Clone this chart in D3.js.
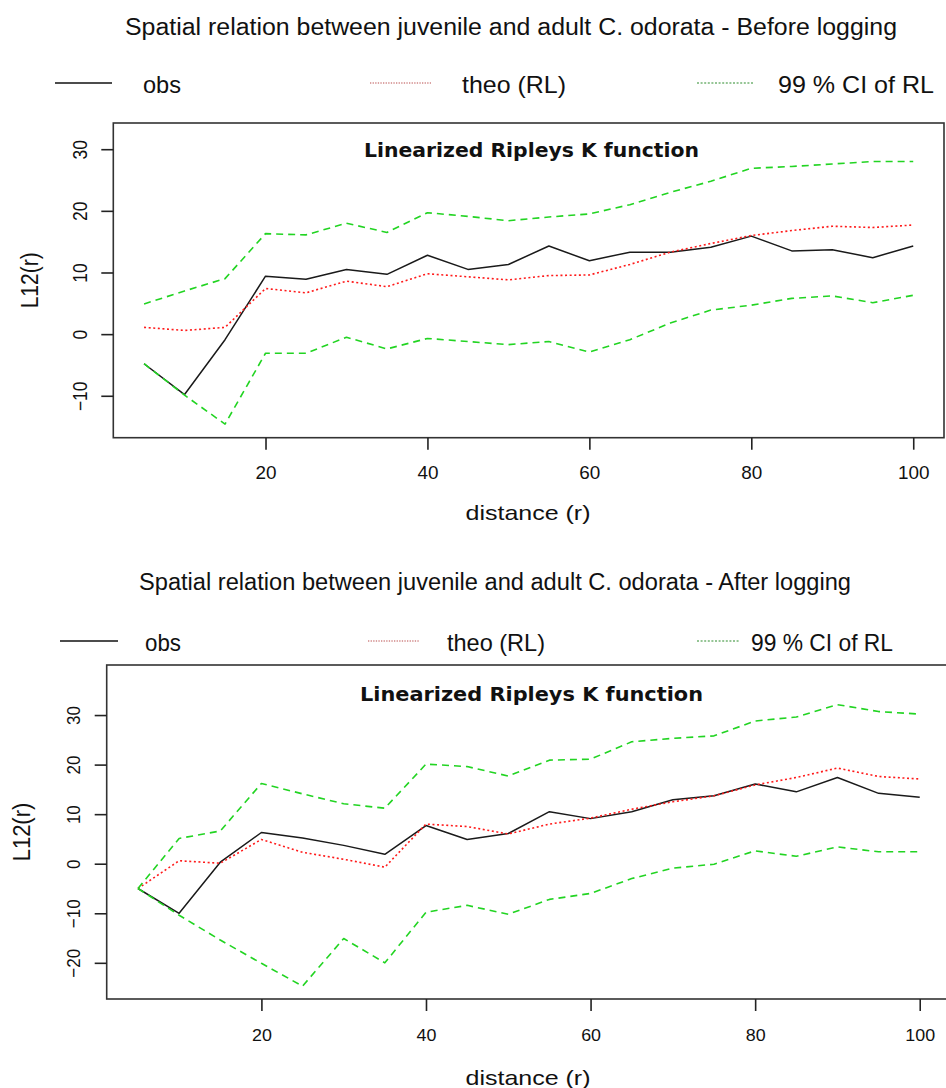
<!DOCTYPE html>
<html>
<head>
<meta charset="utf-8">
<script src="https://cdn.jsdelivr.net/npm/d3@7"></script>
<style>
  body { margin: 0; background: #fff; }
  svg { display: block; }
  text { fill: #111; }
</style>
</head>
<body>
<svg id="chart" width="946" height="1088"></svg>
<script>
// Distances r at which L12(r) was evaluated
const distance = [5, 10, 15, 20, 25, 30, 35, 40, 45, 50, 55, 60, 65, 70, 75, 80, 85, 90, 95, 100];

// Before logging
const beforeObs  = [-4.8, -9.8, -0.9, 9.4, 8.9, 10.5, 9.7, 12.8, 10.5, 11.3, 14.3, 11.9, 13.3, 13.3, 14.1, 15.9, 13.5, 13.7, 12.4, 14.3];
const beforeTheo = [1.1, 0.6, 1.1, 7.4, 6.7, 8.6, 7.7, 9.8, 9.3, 8.8, 9.5, 9.6, 11.3, 13.3, 14.7, 16.0, 16.8, 17.5, 17.3, 17.7];
const beforeHi   = [4.9, 7.0, 9.0, 16.3, 16.1, 18.0, 16.5, 19.7, 19.1, 18.4, 19.0, 19.5, 21.0, 23.0, 24.8, 26.9, 27.2, 27.6, 28.0, 28.0];
const beforeLo   = [-4.8, -9.9, -14.6, -3.1, -3.1, -0.5, -2.4, -0.7, -1.2, -1.7, -1.2, -2.9, -0.9, 1.8, 3.9, 4.7, 5.8, 6.2, 5.1, 6.3];

// After logging
const afterObs  = [-5.0, -10.0, 0.3, 6.3, 5.2, 3.7, 1.9, 7.7, 4.9, 6.1, 10.5, 9.1, 10.5, 12.9, 13.7, 16.1, 14.5, 17.4, 14.2, 13.4];
const afterTheo = [-5.0, 0.6, 0.1, 4.9, 2.3, 0.9, -0.7, 8.0, 7.5, 6.0, 8.0, 9.2, 11.0, 12.5, 13.7, 15.9, 17.4, 19.3, 17.6, 17.1];
const afterHi   = [-5.0, 5.1, 6.6, 16.2, 14.1, 12.1, 11.2, 20.1, 19.6, 17.7, 20.9, 21.1, 24.6, 25.3, 25.8, 28.8, 29.6, 32.1, 30.7, 30.2];
const afterLo   = [-5.0, -10.4, -15.4, -20.1, -24.7, -15.1, -20.0, -9.8, -8.4, -10.2, -7.2, -6.0, -3.0, -0.9, -0.1, 2.6, 1.5, 3.4, 2.4, 2.4];

// Tick labels and texts
const xTickValues = [20, 40, 60, 80, 100];
const yTicksBefore = [-10, 0, 10, 20, 30];
const yTicksAfter = [-20, -10, 0, 10, 20, 30];
const legendLabels = ["obs", "theo (RL)", "99 % CI of RL"];
const mainTitles = [
  "Spatial relation between juvenile and adult C. odorata - Before logging",
  "Spatial relation between juvenile and adult C. odorata - After logging"
];
const panelTitle = "Linearized Ripleys K function";
const xLabel = "distance (r)";
const yLabel = "L12(r)";

const SANS = "'Liberation Sans', Arial, sans-serif";
const BOLD = "'DejaVu Sans', Verdana, sans-serif";

const seriesStyle = [
  { stroke: "#1a1a1a", width: 1.5, dash: null },          // obs
  { stroke: "#ff1a1a", width: 1.6, dash: "2,2.6" },       // theo
  { stroke: "#22d422", width: 1.6, dash: "7,5" },         // hi
  { stroke: "#22d422", width: 1.6, dash: "7,5" }          // lo
];
const legendStyle = [
  { stroke: "#111", width: 1.5, dash: null },
  { stroke: "#b84a4a", width: 1.2, dash: "1.3,1.3" },
  { stroke: "#2c8c2c", width: 1.2, dash: "2,1.6" }
];

const svg = d3.select("#chart");

function drawPanel(cfg) {
  const g = svg.append("g");

  // scales (R-style 4% padding on the x range)
  const x = d3.scaleLinear().domain(cfg.xDomain).range([cfg.left, cfg.right]);
  const y = d3.scaleLinear().domain(cfg.yDomain).range([cfg.bottom, cfg.top]);

  // main title
  g.append("text")
    .attr("x", cfg.titleX).attr("y", cfg.titleY)
    .attr("text-anchor", "middle")
    .attr("textLength", cfg.titleLen).attr("lengthAdjust", "spacingAndGlyphs")
    .style("font-family", SANS).style("font-size", cfg.titleSize + "px")
    .text(cfg.title);

  // legend
  legendLabels.forEach((lab, i) => {
    const L = cfg.legend[i];
    const st = legendStyle[i];
    g.append("line")
      .attr("x1", L.x1).attr("x2", L.x2)
      .attr("y1", cfg.legendLineY).attr("y2", cfg.legendLineY)
      .attr("stroke", st.stroke).attr("stroke-width", st.width)
      .attr("stroke-dasharray", st.dash);
    g.append("text")
      .attr("x", L.tx).attr("y", cfg.legendTextY)
      .attr("textLength", L.tlen).attr("lengthAdjust", "spacingAndGlyphs")
      .style("font-family", SANS).style("font-size", cfg.legendSize + "px")
      .text(lab);
  });

  // clip for the plotting region
  const clipId = "clip-" + cfg.id;
  g.append("clipPath").attr("id", clipId)
    .append("rect")
    .attr("x", cfg.left).attr("y", cfg.top)
    .attr("width", cfg.right - cfg.left).attr("height", cfg.bottom - cfg.top);

  // curves: obs, theo, hi, lo
  const line = d3.line()
    .x((d, i) => x(distance[i]))
    .y(d => y(d));
  const plot = g.append("g").attr("clip-path", `url(#${clipId})`);
  cfg.series.forEach((vals, i) => {
    const st = seriesStyle[i];
    plot.append("path")
      .datum(vals)
      .attr("d", line)
      .attr("fill", "none")
      .attr("stroke", st.stroke)
      .attr("stroke-width", st.width)
      .attr("stroke-dasharray", st.dash)
      .attr("stroke-linejoin", "round");
  });

  // frame
  g.append("rect")
    .attr("x", cfg.left).attr("y", cfg.top)
    .attr("width", cfg.right - cfg.left).attr("height", cfg.bottom - cfg.top)
    .attr("fill", "none").attr("stroke", "#333").attr("stroke-width", 1.6);

  // panel heading inside the frame
  g.append("text")
    .attr("x", cfg.panelX).attr("y", cfg.panelY)
    .attr("text-anchor", "middle")
    .attr("textLength", cfg.panelLen).attr("lengthAdjust", "spacingAndGlyphs")
    .style("font-family", BOLD).style("font-weight", "bold")
    .style("font-size", cfg.panelSize + "px")
    .text(panelTitle);

  // x axis
  const xAxis = g.append("g")
    .attr("transform", `translate(0,${cfg.bottom})`)
    .call(d3.axisBottom(x).tickValues(xTickValues).tickSize(12).tickFormat(d3.format("d")));
  xAxis.select(".domain").remove();
  xAxis.selectAll(".tick line").attr("stroke", "#222").attr("stroke-width", 1.6);
  xAxis.selectAll(".tick text")
    .attr("y", null).attr("dy", null)
    .attr("transform", `translate(0,${cfg.xTickBase}) scale(${cfg.tickStretch},1)`)
    .attr("fill", "#111")
    .style("font-family", SANS).style("font-size", cfg.tickSize + "px");

  // y axis with labels parallel to the axis
  const yAxis = g.append("g")
    .attr("transform", `translate(${cfg.left},0)`)
    .call(d3.axisLeft(y).tickValues(cfg.yTicks).tickSize(12).tickFormat(d3.format("d")));
  yAxis.select(".domain").remove();
  yAxis.selectAll(".tick line").attr("stroke", "#222").attr("stroke-width", 1.6);
  yAxis.selectAll(".tick text")
    .attr("x", null).attr("dy", null)
    .attr("text-anchor", "middle")
    .attr("transform", `translate(${-cfg.yTickOffset},0) scale(${cfg.yTickStretch},1) rotate(-90)`)
    .attr("fill", "#111")
    .style("font-family", SANS).style("font-size", cfg.yTickSize + "px");

  // axis titles
  g.append("text")
    .attr("x", cfg.xLabelX)
    .attr("y", cfg.xLabelY)
    .attr("text-anchor", "middle")
    .attr("textLength", cfg.xLabelLen).attr("lengthAdjust", "spacingAndGlyphs")
    .style("font-family", SANS).style("font-size", cfg.xLabelSize + "px")
    .text(xLabel);

  g.append("text")
    .attr("transform", `translate(${cfg.yLabelX},${(cfg.top + cfg.bottom) / 2}) scale(1.1,1) rotate(-90)`)
    .attr("text-anchor", "middle")
    .style("font-family", SANS).style("font-size", cfg.yLabelSize + "px")
    .text(yLabel);
}

drawPanel({
  id: "before",
  series: [beforeObs, beforeTheo, beforeHi, beforeLo],
  title: mainTitles[0],
  xDomain: [1.2, 103.8], yDomain: [-16.8, 34.25],
  left: 113.3, right: 944, top: 123, bottom: 437.7,
  titleX: 511, titleY: 35, titleLen: 772, titleSize: 23,
  legendLineY: 83, legendTextY: 92.5, legendSize: 24,
  legend: [
    { x1: 55, x2: 112, tx: 143, tlen: 38 },
    { x1: 370, x2: 431, tx: 462, tlen: 104 },
    { x1: 697, x2: 754, tx: 778, tlen: 156 }
  ],
  panelX: 531.5, panelY: 156.5, panelLen: 335, panelSize: 19,
  xTickBase: 41, tickSize: 17.5, tickStretch: 1.08,
  yTicks: yTicksBefore, yTickOffset: 26.3, yTickSize: 17.5, yTickStretch: 1.12,
  xLabelX: 528, xLabelY: 520, xLabelLen: 125, xLabelSize: 21,
  yLabelX: 38, yLabelSize: 21
});

drawPanel({
  id: "after",
  series: [afterObs, afterTheo, afterHi, afterLo],
  title: mainTitles[1],
  xDomain: [1.2, 103.8], yDomain: [-27.3, 40.1],
  left: 106.7, right: 951, top: 665, bottom: 999,
  titleX: 495, titleY: 590, titleLen: 712, titleSize: 23,
  legendLineY: 641, legendTextY: 650.5, legendSize: 24,
  legend: [
    { x1: 60, x2: 118, tx: 145, tlen: 36 },
    { x1: 368, x2: 419, tx: 447, tlen: 98 },
    { x1: 697, x2: 739, tx: 751, tlen: 142 }
  ],
  panelX: 531.5, panelY: 700.5, panelLen: 343, panelSize: 19.5,
  xTickBase: 41.5, tickSize: 17, tickStretch: 1.05,
  yTicks: yTicksAfter, yTickOffset: 26.7, yTickSize: 17, yTickStretch: 1.12,
  xLabelX: 528, xLabelY: 1084.5, xLabelLen: 125, xLabelSize: 21,
  yLabelX: 30, yLabelSize: 22
});
</script>
</body>
</html>
